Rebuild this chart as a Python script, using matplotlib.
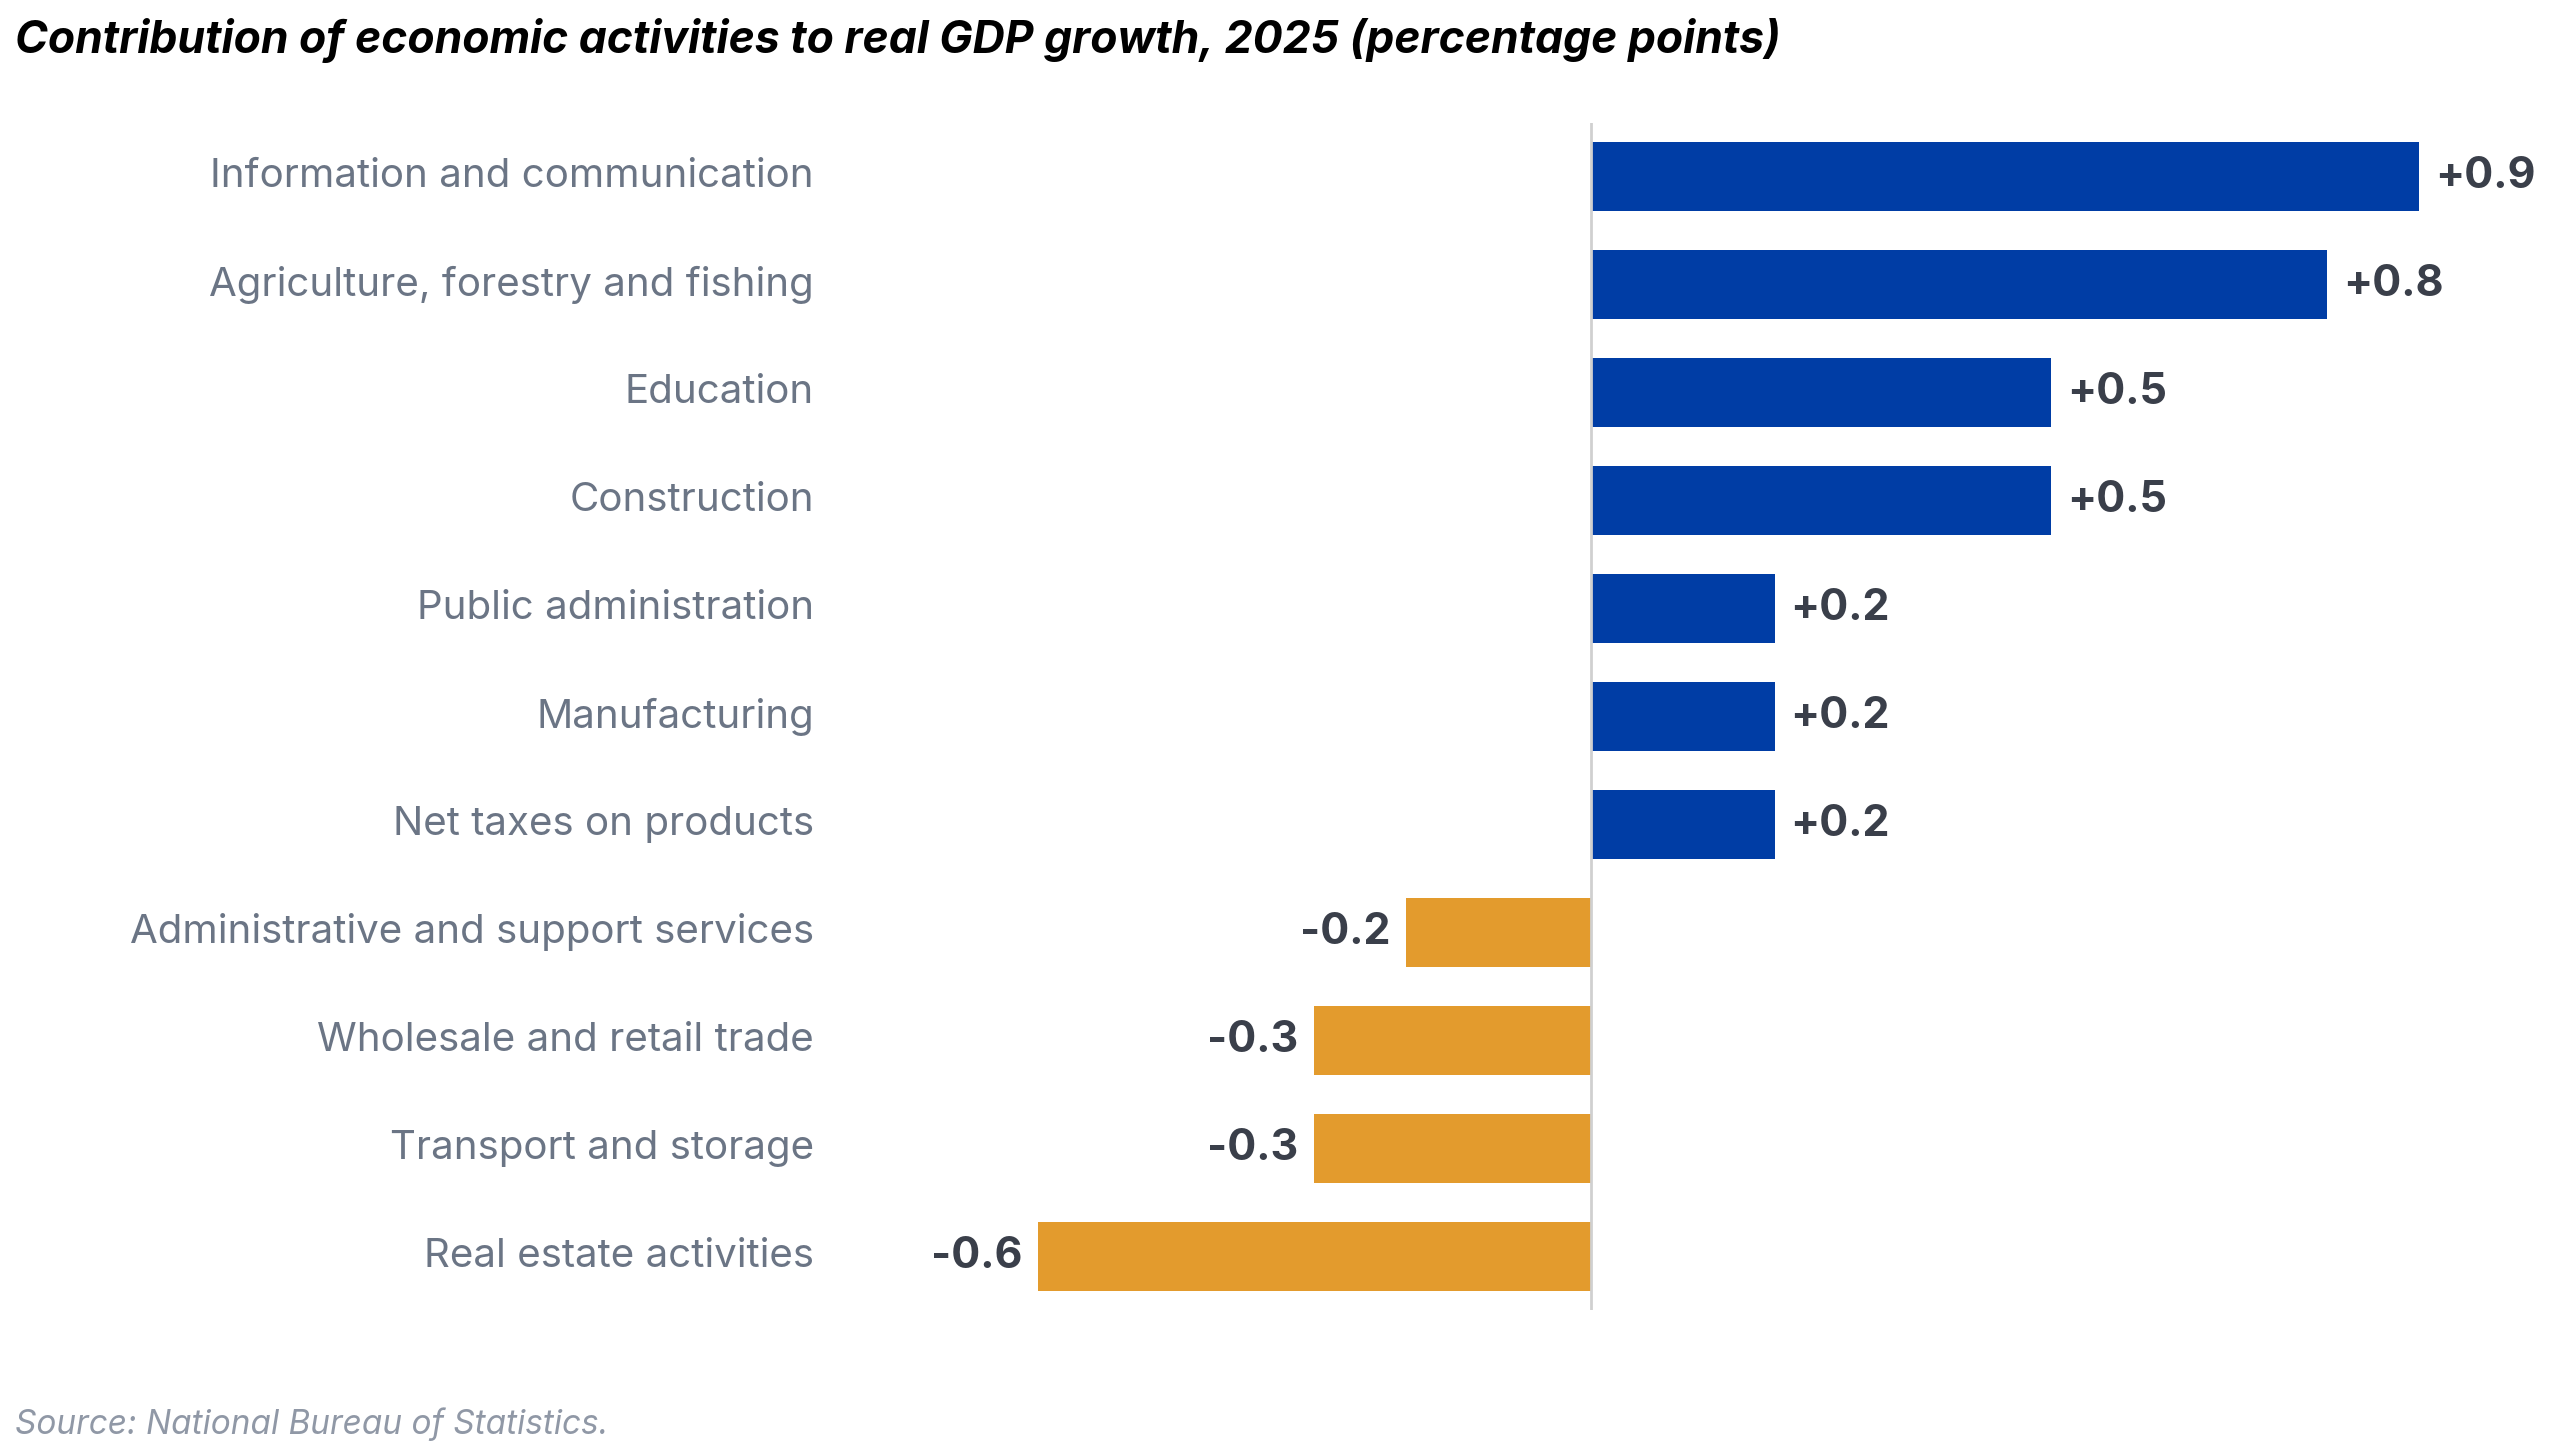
import matplotlib
matplotlib.use("Agg")
import matplotlib.pyplot as plt

categories = ["Information and communication", "Agriculture, forestry and fishing", "Education",
              "Construction", "Public administration", "Manufacturing", "Net taxes on products",
              "Administrative and support services", "Wholesale and retail trade",
              "Transport and storage", "Real estate activities"]
values = [0.9, 0.8, 0.5, 0.5, 0.2, 0.2, 0.2, -0.2, -0.3, -0.3, -0.6]
value_labels = ["+0.9", "+0.8", "+0.5", "+0.5", "+0.2", "+0.2", "+0.2", "-0.2", "-0.3", "-0.3", "-0.6"]

plt.rcParams['font.family'] = ['Inter', 'DejaVu Sans']
BLUE = "#003DA5"
ORANGE = "#E39B2D"

fig = plt.figure(figsize=(25.6, 14.46), dpi=100)
ax = fig.add_axes([0.33, 0.094, 0.66, 0.821])
y = list(range(len(categories)))
colors = [BLUE if v > 0 else ORANGE for v in values]
ax.barh(y, values, height=0.64, color=colors)
ax.set_ylim(10.5, -0.5)
ax.set_xlim(-0.81, 1.025)
ax.axvline(0, color="#d0d0d0", lw=2)
for s in ax.spines.values():
    s.set_visible(False)
ax.set_xticks([])
ax.set_yticks([])
for yi, v, lab in zip(y, values, value_labels):
    off = 0.017 if v > 0 else -0.017
    ax.text(v + off, yi, lab, ha="left" if v > 0 else "right", va="center",
            fontsize=31, fontweight="bold", color="#3a3f4a")
for yi, c in zip(y, categories):
    fig.text(0.318, 0.915 - (yi + 0.5) * 0.821 / 11, c, ha="right", va="center",
             fontsize=29, color="#6b7585")
fig.text(0.006, 0.972, "Contribution of economic activities to real GDP growth, 2025 (percentage points)",
         ha="left", va="center", fontsize=32, fontweight="bold", style="italic", color="black")
fig.text(0.006, 0.015, "Source: National Bureau of Statistics.", ha="left", va="center",
         fontsize=24, style="italic", color="#9098a6")
fig.savefig("out.png", dpi=100)
